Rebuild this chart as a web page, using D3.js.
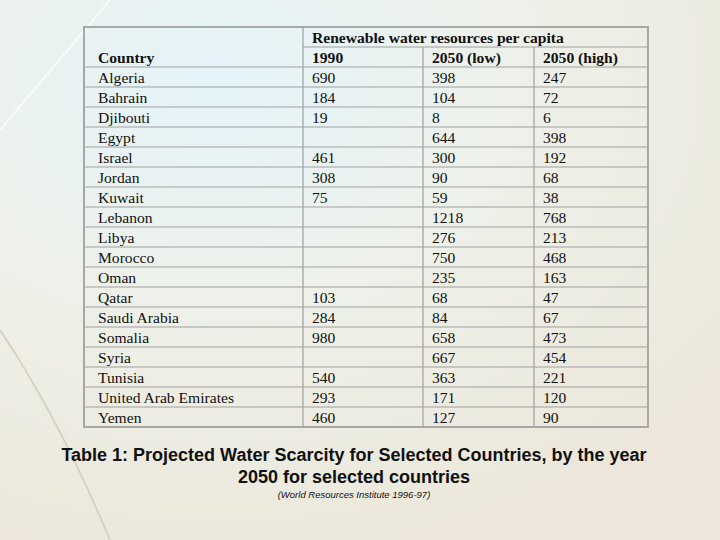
<!DOCTYPE html>
<html><head><meta charset="utf-8">
<script src="https://cdn.jsdelivr.net/npm/d3@7"></script>
<style>body{margin:0;}</style></head>
<body><div id="c"></div>
<script>
const countries=["Algeria","Bahrain","Djibouti","Egypt","Israel","Jordan","Kuwait","Lebanon","Libya","Morocco","Oman","Qatar","Saudi Arabia","Somalia","Syria","Tunisia","United Arab Emirates","Yemen"];
const v1990=["690","184","19","","461","308","75","","","","","103","284","980","","540","293","460"];
const v2050low=["398","104","8","644","300","90","59","1218","276","750","235","68","84","658","667","363","171","127"];
const v2050high=["247","72","6","398","192","68","38","768","213","468","163","47","67","473","454","221","120","90"];
const colHeads=["1990","2050 (low)","2050 (high)"];

const W=720,H=540;
const svg=d3.select("#c").append("svg").attr("width",W).attr("height",H);
const defs=svg.append("defs");
const g1=defs.append("radialGradient").attr("id","bg").attr("cx","0.3").attr("cy","0.15").attr("r","0.9");
g1.append("stop").attr("offset","0").attr("stop-color","#e4f4fa");
g1.append("stop").attr("offset","0.45").attr("stop-color","#eef1ea");
g1.append("stop").attr("offset","1").attr("stop-color","#ece7da");
svg.append("rect").attr("width",W).attr("height",H).attr("fill","url(#bg)");
svg.append("path").attr("d","M0,130 L110,0").attr("stroke","#ffffff").attr("stroke-width",2).attr("opacity",0.7);
svg.append("path").attr("d","M0,330 Q60,420 110,540").attr("stroke","#d8d2c4").attr("stroke-width",2).attr("fill","none");

const L=84,R=648,T=27;
const cols=[L,303,423,534,R];
const rowH=20, firstRow=67;
const y=d3.scaleBand().domain(countries).range([firstRow,firstRow+rowH*countries.length]);
const stroke="#a0a0a0";
const grid=svg.append("g").attr("stroke",stroke).attr("stroke-width",1.2);
grid.append("rect").attr("x",L).attr("y",T).attr("width",R-L).attr("height",y.range()[1]-T).attr("fill","none").attr("stroke-width",1.8);
grid.append("line").attr("x1",cols[1]).attr("x2",R).attr("y1",47).attr("y2",47);
grid.append("line").attr("x1",cols[1]).attr("x2",cols[1]).attr("y1",T).attr("y2",y.range()[1]);
[2,3].forEach(i=>grid.append("line").attr("x1",cols[i]).attr("x2",cols[i]).attr("y1",47).attr("y2",y.range()[1]));
countries.forEach(c=>grid.append("line").attr("x1",L).attr("x2",R).attr("y1",y(c)).attr("y2",y(c)));

const font="'Liberation Serif','Times New Roman',serif";
const t=svg.append("g").attr("font-family",font).attr("font-size",15.6).attr("fill","#111");
t.append("text").attr("x",cols[1]+9).attr("y",43).attr("font-weight","bold").text("Renewable water resources per capita");
t.append("text").attr("x",L+14).attr("y",63).attr("font-weight","bold").text("Country");
colHeads.forEach((h,i)=>t.append("text").attr("x",cols[i+1]+9).attr("y",63).attr("font-weight","bold").text(h));
const cols3=[v1990,v2050low,v2050high];
countries.forEach((c,i)=>{
  const yy=y(c)+16;
  t.append("text").attr("x",L+14).attr("y",yy).text(c);
  cols3.forEach((arr,j)=>t.append("text").attr("x",cols[j+1]+9).attr("y",yy).text(arr[i]));
});

const cap=svg.append("g").attr("font-family","'Liberation Sans',Arial,sans-serif").attr("text-anchor","middle").attr("fill","#111");
cap.append("text").attr("x",354).attr("y",461).attr("font-size",18).attr("font-weight","bold").text("Table 1: Projected Water Scarcity for Selected Countries, by the year");
cap.append("text").attr("x",354).attr("y",483).attr("font-size",18).attr("font-weight","bold").text("2050 for selected countries");
cap.append("text").attr("x",354).attr("y",498).attr("font-size",9.5).attr("font-style","italic").text("(World Resources Institute 1996-97)");
</script></body></html>
